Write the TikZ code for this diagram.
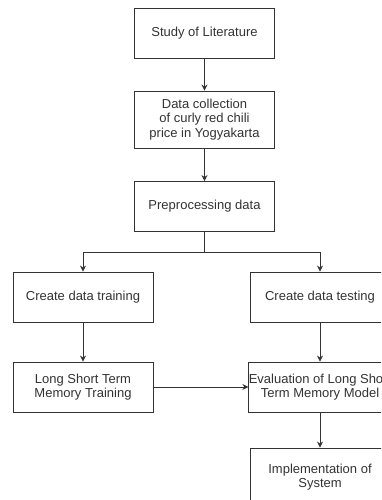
\documentclass[tikz,border=0pt]{standalone}
\usepackage{fontspec}
\setmainfont{Liberation Sans}
\usetikzlibrary{arrows.meta,positioning}

\begin{document}
\begin{tikzpicture}[x=1pt,y=-1pt,
  box/.style={draw=black!80,line width=0.8pt,text=black!80,align=center,
    minimum width=140pt,minimum height=50pt,inner xsep=0pt,
    font=\fontsize{13}{14.5}\selectfont},
  arr/.style={draw=black!80,line width=0.8pt,-{Stealth[length=6pt,width=6pt]}}]
\fill[white] (0,0) rectangle (381,500);
\clip (0,0) rectangle (381,500);

\node[box] (lit) at (204.5,33.5) {Study of Literature};
\node[box,minimum height=57pt] (coll) at (204.5,119.5) {Data collection\\of curly red chili\\price in Yogyakarta};
\node[box] (pre) at (204.5,206.5) {Preprocessing data};
\node[box] (train) at (83,297) {Create data training};
\node[box] (test) at (320,297) {Create data testing};
\node[box] (lstm) at (83,387) {Long Short Term\\Memory Training};
\node[box] (eval) at (320,387) {Evaluation of Long Short\\Term Memory Model};
\node[box,minimum height=58pt] (impl) at (320,477) {Implementation of\\System};
\coordinate (split) at (204.5,252);

\draw[arr] (lit) -- (coll);
\draw[arr] (coll) -- (pre);
\draw[draw=black!80,line width=0.8pt] (pre) -- (split);
\draw[arr] (split) -| (train);
\draw[arr] (split) -| (test);
\draw[arr] (train) -- (lstm);
\draw[arr] (test) -- (eval);
\draw[arr] (lstm) -- (eval);
\draw[arr] (eval) -- (impl);
\end{tikzpicture}
\end{document}
